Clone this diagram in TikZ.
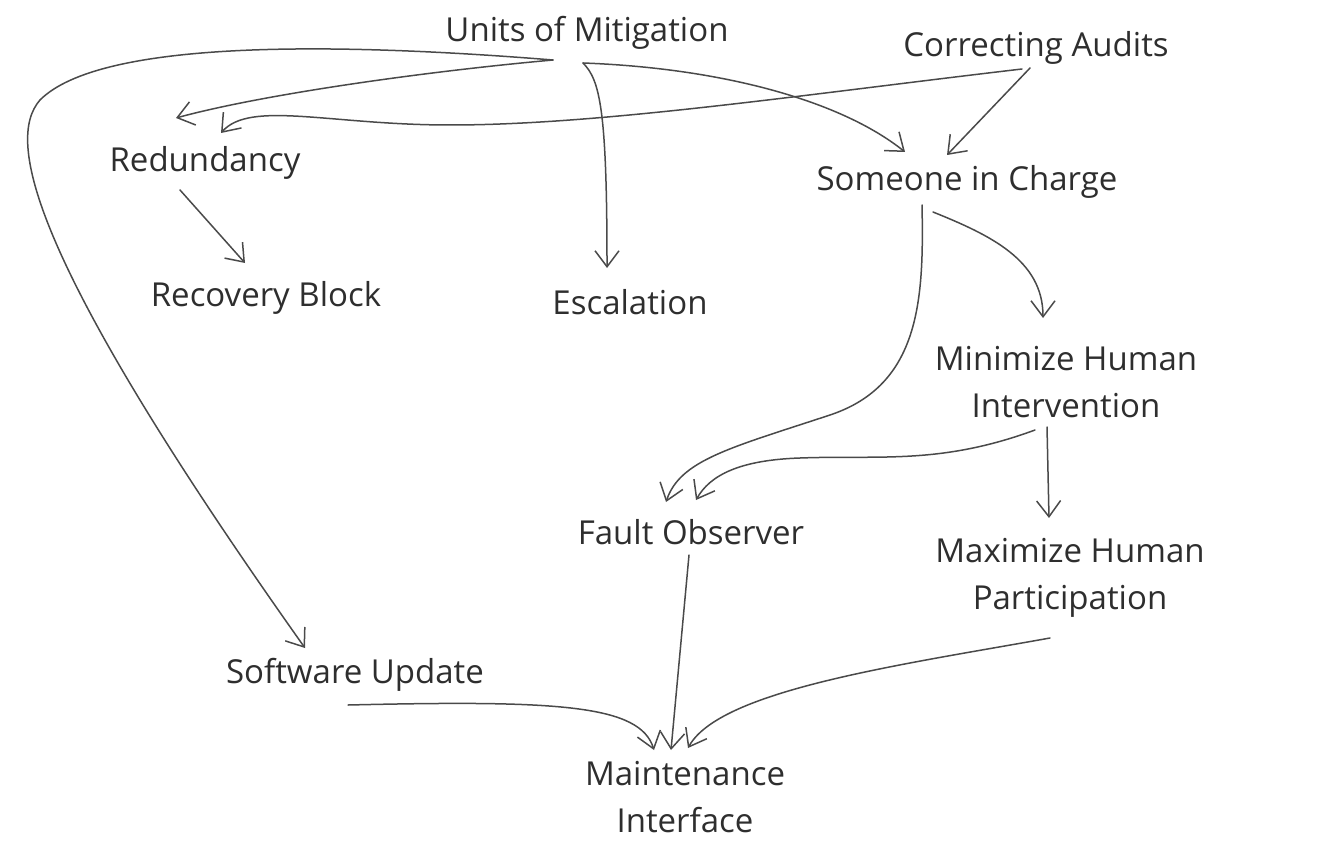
\documentclass[tikz,border=0pt]{standalone}
\usepackage{fontspec}
\usepackage{xcolor}
\usepackage{tikz}
\usetikzlibrary{arrows.meta}
\setmainfont{Open Sans}
\definecolor{ink}{HTML}{2E2E2E}
\definecolor{wire}{HTML}{4A4A4A}
\newcommand{\handfont}{\fontsize{16.5}{23.5}\selectfont}

\begin{document}
\begin{tikzpicture}[x=0.5pt, y=-0.5pt,
  concept/.style={font=\handfont, text=ink, align=center, inner sep=0pt},
  link/.style={draw=wire, line width=0.75pt, line cap=round,
    -{Straight Barb[length=8pt, width=12pt, line width=0.75pt]}}]
\useasboundingbox (0,0) rectangle (1342,850);

\node[concept] (units)   at (587,33)   {Units of Mitigation};
\node[concept] (audits)  at (1036,48)  {Correcting Audits};
\node[concept] (red)     at (205,163)  {Redundancy};
\node[concept] (someone) at (967,182)  {Someone in Charge};
\node[concept] (recov)   at (266,298)  {Recovery Block};
\node[concept] (escal)   at (630,302)  {Escalation};
\node[concept] (minim)   at (1066,382) {Minimize Human\\Intervention};
\node[concept] (fault)   at (691,532)  {Fault Observer};
\node[concept] (maxim)   at (1070,578) {Maximize Human\\Participation};
\node[concept] (soft)    at (355,675)  {Software Update};
\node[concept] (maint)   at (685,797)  {Maintenance\\Interface};

\draw[link] ([shift={(-34,27)}]units.center) .. controls (420,72) and (260,95) .. ([shift={(-29,-45)}]red.center);
\draw[link] ([shift={(-34,27)}]units.center) .. controls (330,42) and (100,40) .. (40,100)
  .. controls (5,140) and (30,260) .. ([shift={(-50,-27)}]soft.center);
\draw[link] ([shift={(-4,30)}]units.center) .. controls (600,80) and (607,110) .. ([shift={(-23,-34)}]escal.center);
\draw[link] ([shift={(-4,30)}]units.center) .. controls (720,68) and (840,100) .. ([shift={(-62,-30)}]someone.center);
\draw[link] ([shift={(-6,20)}]audits.center) -- ([shift={(-20,-27)}]someone.center);
\draw[link] ([shift={(-14,21)}]audits.center) .. controls (800,95) and (600,125) .. (450,125)
  .. controls (330,125) and (250,100) .. ([shift={(16,-30)}]red.center);
\draw[link] ([shift={(-25,27)}]red.center) -- ([shift={(-21,-35)}]recov.center);
\draw[link] ([shift={(-45,23)}]someone.center) .. controls (924,300) and (920,385) .. (830,415)
  .. controls (730,448) and (680,460) .. ([shift={(-25,-30)}]fault.center);
\draw[link] ([shift={(-34,30)}]someone.center) .. controls (990,235) and (1043,260) .. ([shift={(-23,-64)}]minim.center);
\draw[link] ([shift={(-31,48)}]minim.center) .. controls (940,465) and (880,455) .. (800,458)
  .. controls (740,460) and (710,475) .. ([shift={(5,-32)}]fault.center);
\draw[link] ([shift={(-19,45)}]minim.center) -- ([shift={(-21,-60)}]maxim.center);
\draw[link] ([shift={(-2,23)}]fault.center) -- ([shift={(-14,-47)}]maint.center);
\draw[link] ([shift={(-7,30)}]soft.center) .. controls (560,700) and (640,705) .. ([shift={(-31,-47)}]maint.center);
\draw[link] ([shift={(-20,60)}]maxim.center) .. controls (900,665) and (720,690) .. ([shift={(3,-49)}]maint.center);
\end{tikzpicture}
\end{document}
